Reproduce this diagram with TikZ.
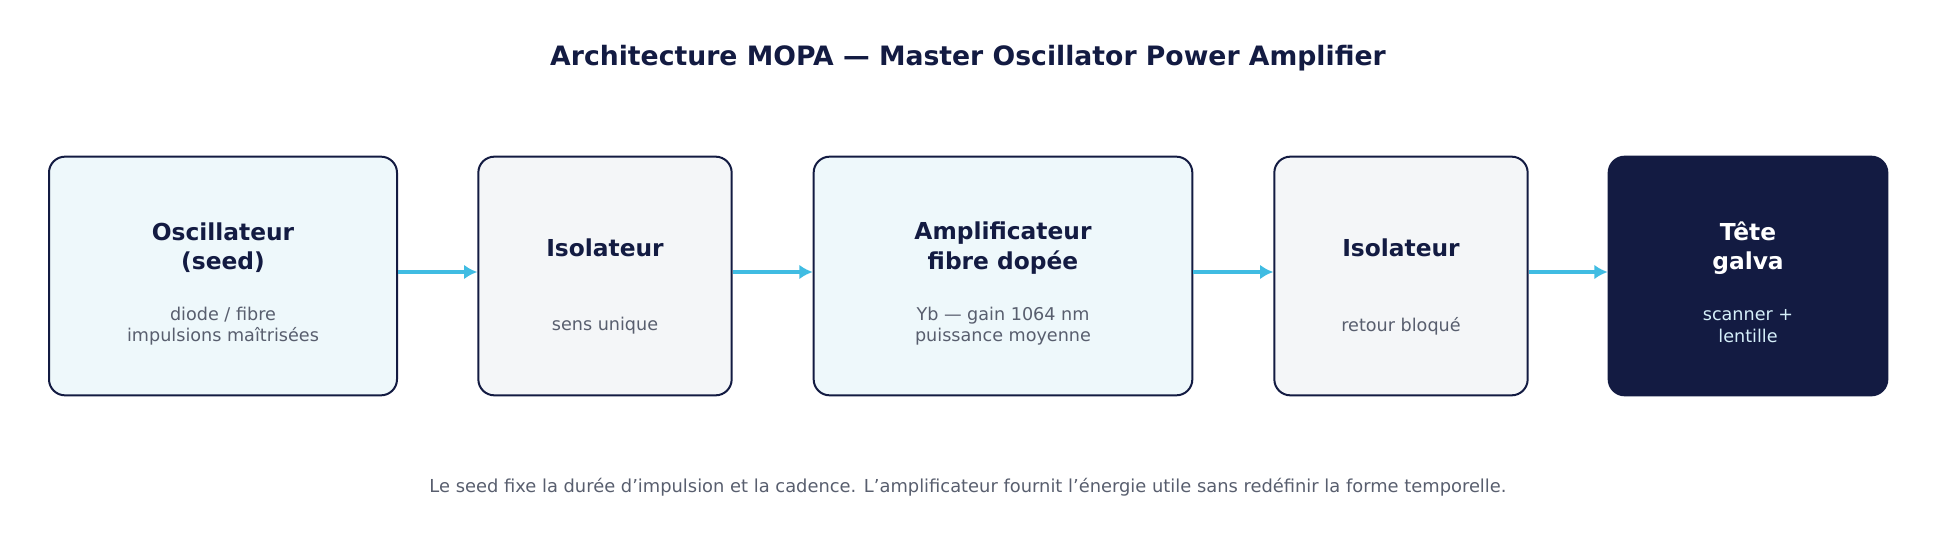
\documentclass[tikz,border=0pt]{standalone}
\usepackage{fontspec}
\setmainfont{DejaVu Sans}
\usetikzlibrary{positioning}
\definecolor{navy}{RGB}{19,27,66}
\definecolor{paleblue}{RGB}{238,248,251}
\definecolor{palegray}{RGB}{244,246,248}
\definecolor{arrowblue}{RGB}{64,188,226}
\definecolor{textgray}{RGB}{88,94,110}
\definecolor{lightcyan}{RGB}{214,240,250}
\tikzset{every picture/.style={line width=0.75pt}}
\tikzset{
  stage/.style={draw=navy, line width=1.5pt, rounded corners=12pt, minimum height=179pt},
  head/.style={font=\fontsize{17.5}{22}\selectfont\bfseries, text=navy, align=center},
  sub/.style={font=\fontsize{13.2}{16}\selectfont, text=textgray, align=center},
  flow/.style={draw=arrowblue, line width=2.6pt, -{Latex[length=10pt,width=11pt]}}
}
\usetikzlibrary{arrows.meta}
\begin{document}
\begin{tikzpicture}[x=0.75pt,y=0.75pt,yscale=-1,xscale=1]
\path[use as bounding box] (0,0) rectangle (1936,560);

% Title
\node (title) at (968,58) {\fontsize{20}{24}\selectfont\bfseries\color{navy}Architecture MOPA — Master Oscillator Power Amplifier};

% Stages
\node[stage, fill=paleblue, minimum width=261pt] (seed) at (223,276) {};
\node[stage, fill=palegray, minimum width=190pt] (iso1) at (605,276) {};
\node[stage, fill=paleblue, minimum width=284pt] (ampli) at (1003,276) {};
\node[stage, fill=palegray, minimum width=190pt] (iso2) at (1401,276) {};
\node[stage, fill=navy, minimum width=209pt] (galva) at (1748,276) {};

% Texts
\node[head] at (223,248) {Oscillateur\\(seed)};
\node[sub] at (223,326) {diode / fibre\\impulsions maîtrisées};
\node[head] at (605,248) {Isolateur};
\node[sub] at (605,326) {sens unique};
\node[head] at (1003,248) {Amplificateur\\fibre dopée};
\node[sub] at (1003,326) {Yb — gain 1064 nm\\puissance moyenne};
\node[head] at (1401,248) {Isolateur};
\node[sub] at (1401,326) {retour bloqué};
\node[head, text=white] at (1748,248) {Tête\\galva};
\node[sub, text=lightcyan] at (1748,326) {scanner +\\lentille};

% Arrows
\draw[flow] ([yshift=-3pt]seed.east) -- ([yshift=-3pt]iso1.west);
\draw[flow] ([yshift=-3pt]iso1.east) -- ([yshift=-3pt]ampli.west);
\draw[flow] ([yshift=-3pt]ampli.east) -- ([yshift=-3pt]iso2.west);
\draw[flow] ([yshift=-3pt]iso2.east) -- ([yshift=-3pt]galva.west);

% Caption
\node[sub, font=\fontsize{13.4}{16}\selectfont] (caption) at (968,487) {Le seed fixe la durée d’impulsion et la cadence. L’amplificateur fournit l’énergie utile sans redéfinir la forme temporelle.};
\end{tikzpicture}
\end{document}
